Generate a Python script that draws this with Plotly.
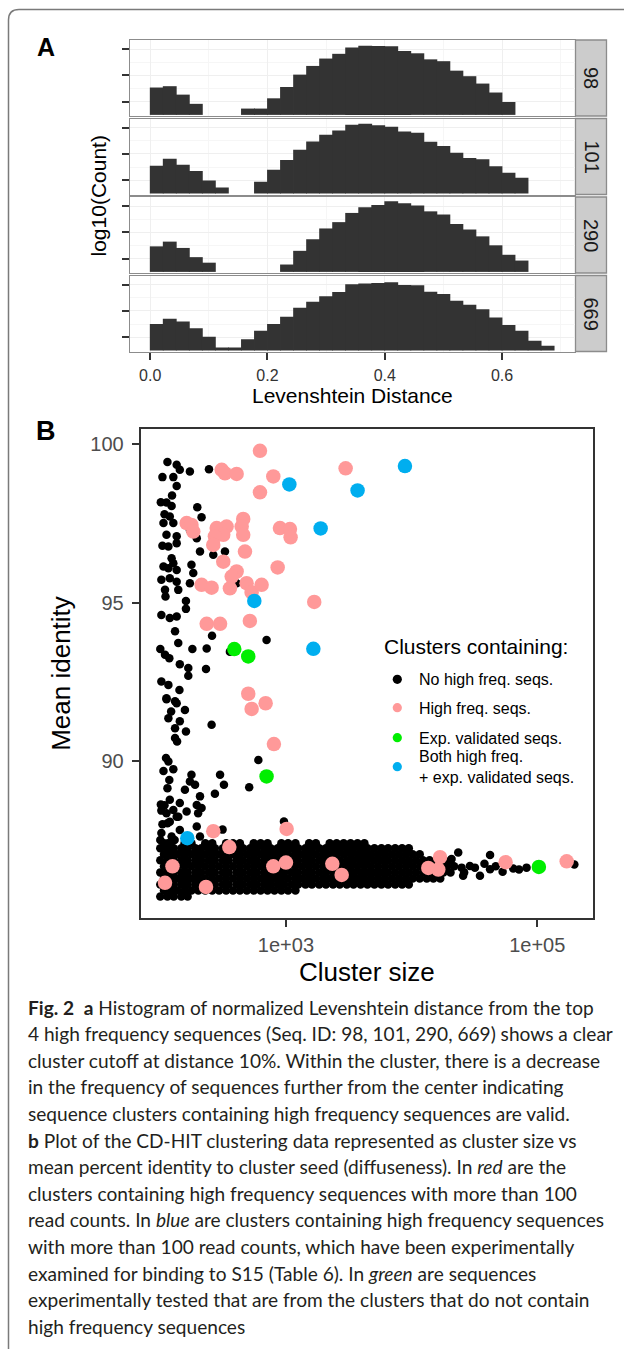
import plotly.graph_objects as go

W, H = 624, 1349

# ---------------- Panel A data (histograms, log10 count heights) ----------------
seq_ids = ["98", "101", "290", "669"]
lev_bin_mid = [0.0111, 0.0333, 0.0556, 0.0778, 0.1000, 0.1222, 0.1444, 0.1667, 0.1889, 0.2111,
               0.2333, 0.2556, 0.2778, 0.3000, 0.3222, 0.3444, 0.3667, 0.3889, 0.4111, 0.4333,
               0.4556, 0.4778, 0.5000, 0.5222, 0.5444, 0.5667, 0.5889, 0.6111, 0.6333, 0.6556, 0.6778]
lev_bin_width = 0.0236
log_count_98 = [1.04, 1.09, 0.77, 0.42, 0, 0, 0, 0.24, 0.24, 0.63, 1.06, 1.53, 1.86, 2.14, 2.32, 2.56,
                2.63, 2.62, 2.61, 2.43, 2.34, 2.11, 2.04, 1.68, 1.47, 1.19, 0.85, 0.49, 0, 0, 0]
log_count_101 = [1.05, 1.32, 1.09, 0.85, 0.49, 0.22, 0, 0, 0.44, 0.90, 1.27, 1.66, 1.97, 2.23, 2.39, 2.61,
                 2.65, 2.59, 2.53, 2.35, 2.30, 1.96, 1.80, 1.54, 1.34, 1.30, 1.03, 0.78, 0.59, 0, 0]
log_count_290 = [0.97, 1.15, 0.91, 0.56, 0.35, 0, 0, 0, 0, 0, 0.28, 0.80, 1.24, 1.65, 1.89, 2.24,
                 2.46, 2.54, 2.68, 2.61, 2.52, 2.30, 2.18, 1.82, 1.61, 1.35, 1.01, 0.65, 0.43, 0, 0]
log_count_669 = [1.00, 1.20, 1.10, 0.84, 0.52, 0.11, 0.11, 0.42, 0.75, 1.00, 1.28, 1.62, 1.85, 2.06, 2.22, 2.51,
                 2.54, 2.56, 2.59, 2.48, 2.47, 2.23, 2.14, 1.89, 1.73, 1.56, 1.25, 0.96, 0.75, 0.37, 0.18]
lev_ticks = [0.0, 0.2, 0.4, 0.6]
lev_ticktext = ["0.0", "0.2", "0.4", "0.6"]

# ---------------- Panel B data (cluster size vs mean identity) ----------------
# clusters with no high-frequency sequences: scattered points
none_size = [114, 135, 143, 172, 104, 127, 135, 124, 101, 112, 123, 108, 119, 106, 127, 112, 135, 104, 135, 116,
             123, 106, 127, 116, 135, 102, 119, 135, 109, 139, 110, 102, 119, 135, 131, 100, 109, 118, 139, 143,
             102, 116, 142, 112, 131, 197, 213, 172, 195, 207, 177, 183, 172, 160, 160, 180, 234, 258, 231, 167,
             167, 244, 264, 327, 701, 358, 405,
             112, 135, 122, 157, 116, 143, 131, 160, 131, 136, 111, 116, 106, 127, 118, 114, 119, 102, 112, 127,
             139, 114, 102, 123, 143, 195, 207, 177, 172, 189, 157, 207, 195, 213, 200, 162, 143, 135, 119, 256,
             603, 510, 299, 321, 272, 964, 313, 101, 108, 100, 115, 130, 104,
             23500, 42100, 20800, 25000, 29100, 35000, 25700, 31900, 42100, 64400, 82200, 46700, 71600, 197300,
             38000, 53000]
none_identity = [99.44, 99.35, 99.19, 99.14, 98.96, 98.96, 98.68, 98.38, 98.17, 98.16, 98.05, 97.79, 97.72, 97.51,
                 97.51, 97.14, 97.09, 96.79, 96.87, 96.77, 96.40, 96.14, 96.24, 96.08, 96.03, 95.72, 95.77, 95.66,
                 95.40, 95.40, 95.19, 94.61, 94.51, 94.56, 94.09, 93.53, 93.35, 93.24, 93.72, 93.05, 92.51, 92.40,
                 92.24, 91.98, 91.88, 98.01, 97.69, 97.29, 97.03, 96.61, 96.19, 95.93, 95.61, 95.05, 94.80, 93.53,
                 93.55, 93.95, 92.90, 92.93, 92.69, 99.21, 96.51, 96.61, 93.82, 93.45, 95.61,
                 91.95, 91.82, 91.56, 91.61, 91.35, 91.25, 91.03, 90.93, 90.72, 90.61, 90.09, 89.98, 89.68, 89.74,
                 89.40, 89.14, 88.77, 88.43, 88.35, 88.45, 88.24, 88.03, 87.72, 87.61, 87.82, 87.93, 87.61, 89.56,
                 89.35, 89.25, 89.09, 88.88, 88.61, 88.51, 88.35, 88.40, 88.67, 88.24, 88.08, 91.14, 90.03, 89.17,
                 89.56, 89.25, 88.96, 88.09, 87.83, 88.62, 88.60, 87.50, 87.40, 87.50, 88.00,
                 87.11, 87.03, 86.90, 86.63, 86.68, 86.37, 86.37, 86.63, 86.58, 86.60, 86.63, 86.67, 86.57, 86.73,
                 86.75, 86.50]

# dense band of clusters with no high-frequency sequences, read row by row
band_identity = [85.72, 85.91, 86.10, 86.29, 86.48, 86.67, 86.86, 87.05, 87.24, 87.40]
band_sizes = [
    [100, 114, 128, 147, 165],
    [107, 121, 137, 156, 177, 201, 228, 259, 294, 334, 379, 430, 488, 554, 629, 714, 810, 920, 1040, 1190],
    [100, 114, 128, 147, 165, 190, 212, 243, 272, 315, 350, 405, 455, 520, 585, 670, 755, 860, 970, 1110,
     1250, 1430, 1610, 1840, 2080, 2370, 2680, 3050, 3450, 3930, 4450, 5060, 5750, 6500, 7400, 8400, 9500],
    [107, 121, 137, 156, 177, 201, 228, 259, 294, 334, 379, 430, 488, 554, 629, 714, 810, 920, 1040, 1190,
     1350, 1530, 1730, 1970, 2230, 2530, 2880, 3270, 3710, 4210, 4770, 5420, 6150, 6980, 7920, 8990, 10200,
     11600, 13200, 14900, 16900],
    [100, 114, 128, 147, 165, 190, 212, 243, 272, 315, 350, 405, 455, 520, 585, 670, 755, 860, 970, 1110,
     1250, 1430, 1610, 1840, 2080, 2370, 2680, 3050, 3450, 3930, 4450, 5060, 5750, 6500, 7400, 8400, 9500,
     10800, 12300, 13900, 15800, 17900, 20400, 26200],
    [107, 121, 137, 156, 177, 201, 228, 259, 294, 334, 379, 430, 488, 554, 629, 714, 810, 920, 1040, 1190,
     1350, 1530, 1730, 1970, 2230, 2530, 2880, 3270, 3710, 4210, 4770, 5420, 6150, 6980, 7920, 8990, 10200,
     11600, 13200, 14900, 16900, 19200, 21800],
    [100, 114, 128, 147, 165, 190, 212, 243, 272, 315, 350, 405, 455, 520, 585, 670, 755, 860, 970, 1110,
     1250, 1430, 1610, 1840, 2080, 2370, 2680, 3050, 3450, 3930, 4450, 5060, 5750, 6500, 7400, 8400, 9500,
     10800, 12300, 13900, 15800, 17900, 20400],
    [107, 121, 137, 156, 177, 201, 228, 259, 294, 334, 379, 430, 488, 554, 629, 714, 810, 920, 1040, 1190,
     1350, 1530, 1730, 1970, 2230, 2530, 2880, 3270, 3710, 4210, 4770, 5420, 6150, 6980, 7920, 8990, 10200,
     11600],
    [100, 114, 128, 147, 165, 190, 212, 243, 272, 315, 350, 405, 455, 520, 585, 670, 755, 860, 970, 1110,
     1250, 1430, 1610, 1840, 2080, 2370, 2680, 3050, 3450, 3930, 4450, 5060, 5750, 6500, 7400, 8400, 9500],
    [107, 121, 156, 177, 228, 259, 334, 379, 430, 554, 629, 714, 920, 1040, 1190, 1530, 1730, 2230, 2530,
     2880, 3270, 3710, 4210],
]

# clusters containing high frequency sequences (>100 reads)
high_size = [621, 308, 327, 405, 793, 621, 2985, 162, 177, 183, 281, 337, 317, 272, 264, 457, 444, 457, 896, 1076,
             1089, 472, 317, 405, 370, 859, 213, 256, 358, 486, 533, 640, 1679, 234, 299, 516, 501, 533, 689, 802,
             1012, 264, 354, 125, 109, 231, 793, 1000, 2339, 2776, 13580, 16830, 16310, 55980, 171500]
high_identity = [99.79, 99.19, 99.08, 99.06, 98.98, 98.48, 99.24, 97.51, 97.45, 97.24, 97.35, 97.40, 97.14, 97.09,
                 96.82, 97.64, 97.40, 97.14, 97.35, 97.32, 97.06, 96.61, 96.29, 95.98, 95.82, 96.11, 95.56, 95.47,
                 95.45, 95.61, 95.32, 95.56, 95.02, 94.33, 94.33, 94.42, 92.12, 91.64, 91.82, 90.53, 87.85, 87.78,
                 87.28, 86.67, 86.15, 86.02, 86.67, 86.79, 86.75, 86.40, 86.62, 86.96, 86.57, 86.80, 86.83]
# experimentally validated sequences
exp_size = [388, 501, 701, 103000]
exp_identity = [93.53, 93.30, 89.51, 86.65]
# both high frequency + experimentally validated
both_size = [1064, 1888, 560, 1652, 8851, 3715, 164]
both_identity = [98.73, 97.34, 95.05, 93.54, 99.31, 98.54, 87.56]

legend_labels = ["No high freq. seqs.", "High freq. seqs.", "Exp. validated seqs.",
                 "Both high freq.<br>+ exp. validated seqs."]
legend_colors = ["#000000", "#FF9999", "#00EE00", "#00AEEF"]

caption_lines = [
    "<b>Fig. 2</b>  <b>a</b> Histogram of normalized Levenshtein distance from the top",
    "4 high frequency sequences (Seq. ID: 98, 101, 290, 669) shows a clear",
    "cluster cutoff at distance 10%. Within the cluster, there is a decrease",
    "in the frequency of sequences further from the center indicating",
    "sequence clusters containing high frequency sequences are valid.",
    "<b>b</b> Plot of the CD-HIT clustering data represented as cluster size vs",
    "mean percent identity to cluster seed (diffuseness). In <i>red</i> are the",
    "clusters containing high frequency sequences with more than 100",
    "read counts. In <i>blue</i> are clusters containing high frequency sequences",
    "with more than 100 read counts, which have been experimentally",
    "examined for binding to S15 (Table 6). In <i>green</i> are sequences",
    "experimentally tested that are from the clusters that do not contain",
    "high frequency sequences",
]

# ---------------- helpers (pixel -> paper) ----------------
def xp(X):
    return X / W

def yp(Y):
    return 1 - Y / H

SANS = "Liberation Sans, Arial, sans-serif"
fig = go.Figure()

# ---------------- Panel A ----------------
facet_counts = [log_count_98, log_count_101, log_count_290, log_count_669]
facet_px = [(40, 116), (118.5, 194.5), (197, 273), (275.5, 351.5)]
A_left, A_right = 130, 575
shapes = []
annotations = []
for i, (cnts, (t, b)) in enumerate(zip(facet_counts, facet_px)):
    n = "" if i == 0 else str(i + 1)
    fig.add_trace(go.Bar(x=lev_bin_mid, y=cnts, width=lev_bin_width, marker_color="#333333",
                         marker_line_width=0, xaxis="x" + n, yaxis="y" + n, showlegend=False))
    last = (i == 3)
    fig.layout["xaxis" + n] = dict(
        domain=[xp(A_left), xp(A_right)], range=[-0.0345, 0.7245], anchor="y" + n,
        tickvals=lev_ticks, ticktext=lev_ticktext, showticklabels=last,
        ticks="outside" if last else "", ticklen=7, tickwidth=2, tickcolor="#333333",
        tickfont=dict(family=SANS, size=16, color="#333333"), ticklabelstandoff=2,
        showgrid=True, gridcolor="#EFEFEF", gridwidth=1,
        minor=dict(tickvals=[0.1, 0.3, 0.5, 0.7], showgrid=True, gridcolor="#F6F6F6"),
        showline=True, mirror=True, linecolor="#8C8C8C", linewidth=1.3, zeroline=False,
    )
    fig.layout["yaxis" + n] = dict(
        domain=[yp(b), yp(t)], range=[-0.042, 2.845], anchor="x" + n,
        tickvals=[0.5, 1.5, 2.5], showticklabels=False, ticks="outside", ticklen=7, tickwidth=2,
        tickcolor="#333333", showgrid=True, gridcolor="#EFEFEF",
        minor=dict(tickvals=[1.0, 2.0], showgrid=True, gridcolor="#F6F6F6"),
        showline=True, mirror=True, linecolor="#8C8C8C", linewidth=1.3, zeroline=False,
    )
    # strip
    shapes.append(dict(type="rect", xref="paper", yref="paper", x0=xp(575.5), x1=xp(606.5),
                       y0=yp(b), y1=yp(t), fillcolor="#CCCCCC", line=dict(color="#8C8C8C", width=1.3),
                       layer="below"))
    annotations.append(dict(x=xp(591), y=yp((t + b) / 2), xref="paper", yref="paper", text=seq_ids[i],
                            showarrow=False, textangle=90, font=dict(family=SANS, size=20, color="#1A1A1A"),
                            xanchor="center", yanchor="middle"))

annotations.append(dict(x=xp(352.5), y=yp(396), xref="paper", yref="paper", text="Levenshtein Distance",
                        showarrow=False, font=dict(family=SANS, size=21, color="#000000"),
                        xanchor="center", yanchor="middle"))
annotations.append(dict(x=xp(98.5), y=yp(196), xref="paper", yref="paper", text="log10(Count)",
                        showarrow=False, textangle=-90, font=dict(family=SANS, size=21, color="#000000"),
                        xanchor="center", yanchor="middle"))
annotations.append(dict(x=xp(46), y=yp(47), xref="paper", yref="paper", text="<b>A</b>",
                        showarrow=False, font=dict(family="Liberation Sans Narrow, " + SANS, size=25, color="#000000"),
                        xanchor="center", yanchor="middle"))
annotations.append(dict(x=xp(46), y=yp(431), xref="paper", yref="paper", text="<b>B</b>",
                        showarrow=False, font=dict(family="Liberation Sans Narrow, " + SANS, size=27, color="#000000"),
                        xanchor="center", yanchor="middle"))

# ---------------- Panel B ----------------
band_x = [s for row in band_sizes for s in row]
band_y = [band_identity[r] for r, row in enumerate(band_sizes) for _ in row]
fig.add_trace(go.Scatter(x=none_size + band_x, y=none_identity + band_y, mode="markers",
                         marker=dict(color="#000000", size=8.5), xaxis="x5", yaxis="y5", showlegend=False))
fig.add_trace(go.Scatter(x=high_size, y=high_identity, mode="markers",
                         marker=dict(color=legend_colors[1], size=14.5), xaxis="x5", yaxis="y5", showlegend=False))
fig.add_trace(go.Scatter(x=exp_size, y=exp_identity, mode="markers",
                         marker=dict(color=legend_colors[2], size=14.5), xaxis="x5", yaxis="y5", showlegend=False))
fig.add_trace(go.Scatter(x=both_size, y=both_identity, mode="markers",
                         marker=dict(color=legend_colors[3], size=14.5), xaxis="x5", yaxis="y5", showlegend=False))

fig.layout["xaxis5"] = dict(
    domain=[xp(140.7), xp(593.3)], type="log", range=[1.844, 5.446], anchor="y5",
    tickvals=[1000, 100000], ticktext=["1e+03", "1e+05"], ticks="outside", ticklen=7, tickwidth=2,
    tickcolor="#333333", tickfont=dict(family=SANS, size=20, color="#4D4D4D"), ticklabelstandoff=1,
    showgrid=False, zeroline=False, showline=True, mirror=True, linecolor="#333333", linewidth=2,
)
fig.layout["yaxis5"] = dict(
    domain=[yp(918.3), yp(429.3)], range=[85.03, 100.47], anchor="x5",
    tickvals=[90, 95, 100], ticks="outside", ticklen=7, tickwidth=2, ticklabelstandoff=4,
    tickcolor="#333333", tickfont=dict(family=SANS, size=20, color="#4D4D4D"),
    showgrid=False, zeroline=False, showline=True, mirror=True, linecolor="#333333", linewidth=2,
)
annotations.append(dict(x=xp(367), y=yp(972), xref="paper", yref="paper", text="Cluster size",
                        showarrow=False, font=dict(family=SANS, size=26, color="#000000"),
                        xanchor="center", yanchor="middle"))
annotations.append(dict(x=xp(61), y=yp(673.8), xref="paper", yref="paper", text="Mean identity",
                        showarrow=False, textangle=-90, font=dict(family=SANS, size=26, color="#000000"),
                        xanchor="center", yanchor="middle"))

# manual legend
annotations.append(dict(x=xp(382), y=yp(646), xref="paper", yref="paper", text="Clusters containing:",
                        showarrow=False, font=dict(family=SANS, size=21, color="#000000"),
                        xanchor="left", yanchor="middle"))
leg_marker_Y = [679.3, 707.7, 737.7, 766.7]
leg_text_Y = [679.3, 708.3, 738.3, 767.0]
for lab, col, my, ty in zip(legend_labels, legend_colors, leg_marker_Y, leg_text_Y):
    shapes.append(dict(type="circle", xref="paper", yref="paper", xsizemode="pixel", ysizemode="pixel",
                       xanchor=xp(397.3), yanchor=yp(my), x0=-4.6, x1=4.6, y0=-4.6, y1=4.6,
                       fillcolor=col, line=dict(width=0)))
    annotations.append(dict(x=xp(417), y=yp(ty), xref="paper", yref="paper", text=lab,
                            showarrow=False, align="left", font=dict(family=SANS, size=16, color="#000000"),
                            xanchor="left", yanchor="middle"))

# ---------------- caption ----------------
for i, line in enumerate(caption_lines):
    annotations.append(dict(x=xp(25.5), y=yp(1007 + 26.6 * i), xref="paper", yref="paper", text=line,
                            showarrow=False, font=dict(family="Lato, sans-serif", size=19.1, color="#231F20"),
                            xanchor="left", yanchor="middle"))

# outer figure frame
shapes.append(dict(type="path", xref="paper", yref="paper",
                   path="M %f %f L %f %f Q %f %f %f %f L %f %f" % (
                       xp(8.5), yp(1349), xp(8.5), yp(20), xp(8.5), yp(9.5), xp(19), yp(9.5), xp(624), yp(9.5)),
                   line=dict(color="#7A7A7A", width=1.5)))

fig.update_layout(width=W, height=H, margin=dict(l=0, r=0, t=0, b=0), paper_bgcolor="white",
                  plot_bgcolor="white", shapes=shapes, annotations=annotations, showlegend=False,
                  barmode="overlay")
fig.write_html("out.html")
